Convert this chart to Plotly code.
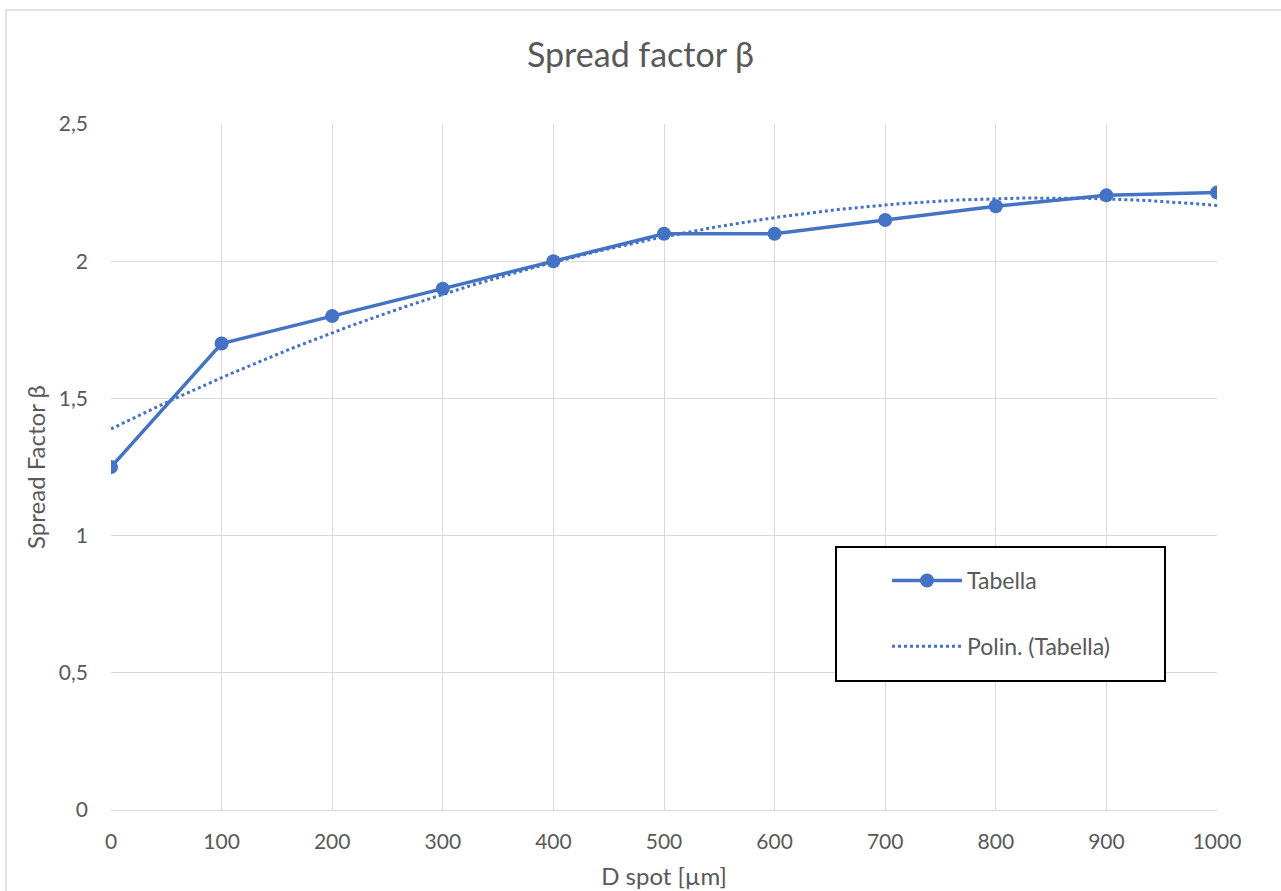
import numpy as np
import plotly.graph_objects as go

# Measured spread factor versus spot diameter
d_spot = [0, 100, 200, 300, 400, 500, 600, 700, 800, 900, 1000]
beta = [1.25, 1.70, 1.80, 1.90, 2.00, 2.10, 2.10, 2.15, 2.20, 2.24, 2.25]

x_ticks = [0, 100, 200, 300, 400, 500, 600, 700, 800, 900, 1000]
y_ticks = [0, 0.5, 1, 1.5, 2, 2.5]

# Second-order polynomial trendline of the table data
coef = np.polyfit(d_spot, beta, 2)
x_fit = np.linspace(0, 1000, 201)
y_fit = np.polyval(coef, x_fit)

W, H = 1281, 891
L, R, T, B = 111, 64, 124, 81
pw, ph = W - L - R, H - T - B

def px(xp):
    return (xp - L) / pw

def py(yp):
    return (H - B - yp) / ph

BLUE = "#4472C4"
GRID = "#D9D9D9"
TXT = "#595959"
FONT = "Lato, Carlito, Calibri, sans-serif"

fig = go.Figure()
fig.add_trace(go.Scatter(
    x=d_spot, y=beta, mode="lines+markers", name="Tabella",
    line=dict(color=BLUE, width=3.5),
    marker=dict(color=BLUE, size=14),
    legendgroup="a",
))
fig.add_trace(go.Scatter(
    x=x_fit, y=y_fit, mode="lines", name="Polin. (Tabella)",
    line=dict(color=BLUE, width=3, dash="dot"),
    legendgroup="b",
))

fig.update_layout(
    width=W, height=H,
    margin=dict(l=L, r=R, t=T, b=B),
    paper_bgcolor="white", plot_bgcolor="white",
    separators=", ",
    font=dict(family=FONT, color=TXT, size=21),
    title=dict(text="Spread factor β", x=0.5, xref="container", xanchor="center",
               y=1 - 55 / H, yref="container", yanchor="middle",
               font=dict(size=34, color=TXT, family=FONT)),
    xaxis=dict(range=[0, 1000], tickvals=x_ticks, showgrid=True, gridcolor=GRID,
               gridwidth=1.3, zeroline=False, showline=True, linecolor=GRID,
               linewidth=1.3, ticks="", ticklabelstandoff=13, automargin=False,
               tickfont=dict(size=21),
               title=dict(text="D spot [µm]", standoff=15, font=dict(size=24))),
    yaxis=dict(range=[0, 2.5], tickvals=y_ticks, showgrid=True, gridcolor=GRID,
               gridwidth=1.3, zeroline=False, showline=False, ticks="",
               ticklabelstandoff=22, tickfont=dict(size=21), automargin=False,
               title=dict(text="Spread Factor β", standoff=6, font=dict(size=24))),
    showlegend=True,
    legend=dict(x=px(887), y=py(559), xanchor="left", yanchor="top",
                bgcolor="rgba(0,0,0,0)", borderwidth=0, itemwidth=70,
                tracegroupgap=33, font=dict(size=23, color=TXT, family=FONT)),
    shapes=[
        # outer chart frame
        dict(type="rect", xref="paper", yref="paper",
             x0=px(6), x1=px(1300), y0=py(900), y1=py(10),
             line=dict(color=GRID, width=1.5), layer="below"),
        # legend box
        dict(type="rect", xref="paper", yref="paper",
             x0=px(836), x1=px(1165), y0=py(681), y1=py(547),
             line=dict(color="black", width=2), fillcolor="white", layer="above"),
    ],
)

fig.write_html("out.html")
